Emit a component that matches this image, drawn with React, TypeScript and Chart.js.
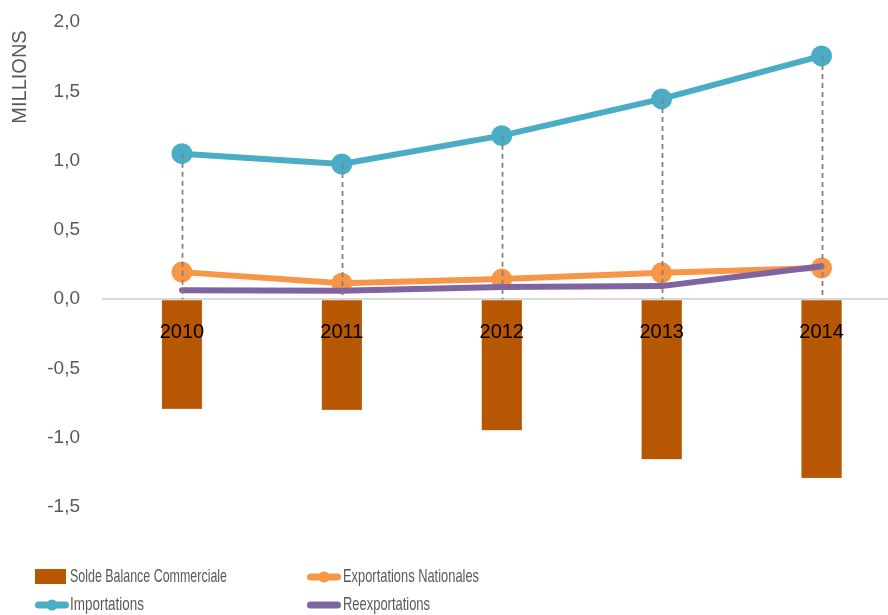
import { useEffect, useRef } from "react";
import { Chart, registerables } from "chart.js";
Chart.register(...registerables);

const years = ["2010", "2011", "2012", "2013", "2014"];
const solde = [-0.79, -0.8, -0.945, -1.155, -1.29];
const exportations = [0.195, 0.115, 0.145, 0.19, 0.225];
const importations = [1.05, 0.975, 1.18, 1.445, 1.755];
const reexportations = [0.065, 0.06, 0.087, 0.094, 0.238];
const yTicks = [-1.5, -1, -0.5, 0, 0.5, 1, 1.5, 2];
const yTitle = "MILLIONS";

const C_BAR = "#B75704";
const C_EXP = "#F79646";
const C_IMP = "#4BACC6";
const C_REX = "#8064A2";
const GREY = "#595959";
const SANS = "'Liberation Sans', sans-serif";

const dropLines = {
  id: "dropLines",
  afterDatasetsDraw(chart: any) {
    const { ctx, scales } = chart;
    const x = scales.x;
    const y = scales.y;
    ctx.save();
    ctx.strokeStyle = "#7F7F7F";
    ctx.lineWidth = 1.75;
    ctx.setLineDash([5, 4]);
    years.forEach((_, i) => {
      const hi = Math.max(importations[i], exportations[i], reexportations[i]);
      const px = Math.round(x.getPixelForValue(i)) + 0.5;
      ctx.beginPath();
      ctx.moveTo(px, y.getPixelForValue(hi));
      ctx.lineTo(px, y.getPixelForValue(0));
      ctx.stroke();
    });
    ctx.restore();
  },
};

const yTitlePlugin = {
  id: "yTitlePlugin",
  afterDraw(chart: any) {
    const { ctx } = chart;
    ctx.save();
    ctx.translate(20, 77);
    ctx.rotate(-Math.PI / 2);
    ctx.font = "20px " + SANS;
    ctx.fillStyle = GREY;
    ctx.textAlign = "center";
    ctx.textBaseline = "middle";
    ctx.fillText(yTitle, 0, 0);
    ctx.restore();
  },
};

const customLegend = {
  id: "customLegend",
  afterDraw(chart: any) {
    const { ctx } = chart;
    ctx.save();
    ctx.font = "19px " + SANS;
    ctx.fillStyle = GREY;
    ctx.textBaseline = "middle";
    const drawLine = (x0: number, x1: number, yy: number, color: string, marker: boolean) => {
      ctx.strokeStyle = color;
      ctx.lineWidth = 7;
      ctx.lineCap = "round";
      ctx.beginPath();
      ctx.moveTo(x0 + 3.5, yy);
      ctx.lineTo(x1 - 3.5, yy);
      ctx.stroke();
      if (marker) {
        ctx.fillStyle = color;
        ctx.beginPath();
        ctx.arc((x0 + x1) / 2, yy, 5.5, 0, Math.PI * 2);
        ctx.fill();
      }
    };
    ctx.fillStyle = C_BAR;
    ctx.fillRect(35, 569, 31, 15);
    ctx.fillStyle = GREY;
    ctx.fillText("Solde Balance Commerciale", 70, 577, 157);
    drawLine(307, 341, 577, C_EXP, true);
    ctx.fillStyle = GREY;
    ctx.fillText("Exportations Nationales", 343, 577, 136);
    drawLine(35, 69, 605, C_IMP, true);
    ctx.fillStyle = GREY;
    ctx.fillText("Importations", 70, 605, 74);
    drawLine(307, 341, 605, C_REX, false);
    ctx.fillStyle = GREY;
    ctx.fillText("Reexportations", 343, 605, 87);
    ctx.restore();
  },
};

export default function App() {
  const ref = useRef<HTMLCanvasElement | null>(null);
  useEffect(() => {
    if (!ref.current) return;
    const chart = new Chart(ref.current, {
      type: "bar",
      data: {
        labels: years,
        datasets: [
          {
            type: "line",
            label: "Reexportations",
            data: reexportations,
            borderColor: C_REX,
            backgroundColor: C_REX,
            borderWidth: 6,
            borderCapStyle: "round",
            borderJoinStyle: "round",
            pointRadius: 0,
            order: 0,
          },
          {
            type: "line",
            label: "Exportations Nationales",
            data: exportations,
            borderColor: C_EXP,
            backgroundColor: C_EXP,
            borderWidth: 6,
            pointRadius: 10.5,
            pointBorderWidth: 0,
            pointBackgroundColor: C_EXP,
            order: 1,
          },
          {
            type: "line",
            label: "Importations",
            data: importations,
            borderColor: C_IMP,
            backgroundColor: C_IMP,
            borderWidth: 6,
            pointRadius: 10.5,
            pointBorderWidth: 0,
            pointBackgroundColor: C_IMP,
            order: 2,
          },
          {
            type: "bar",
            label: "Solde Balance Commerciale",
            data: solde,
            backgroundColor: C_BAR,
            borderColor: "#C98A55",
            borderWidth: 0.5,
            barThickness: 40,
            order: 3,
          },
        ],
      },
      options: {
        responsive: false,
        animation: false,
        layout: { padding: { top: 22, bottom: 108, left: 0, right: 0 } },
        plugins: {
          legend: { display: false },
          tooltip: { enabled: false },
        },
        scales: {
          x: {
            position: { y: 0 },
            afterFit: (s: any) => {
              s.height = 0;
            },
            grid: { display: false, drawTicks: false },
            border: { display: false },
            ticks: {
              z: 1,
              color: "#000000",
              font: { family: SANS, size: 20 },
              padding: 21,
            },
          },
          y: {
            min: -1.5,
            max: 2,
            afterBuildTicks: (s: any) => {
              s.ticks = yTicks.map((v) => ({ value: v }));
            },
            afterFit: (s: any) => {
              s.width = 102;
              s.paddingTop = 0;
              s.paddingBottom = 0;
            },
            border: { display: false },
            grid: {
              drawTicks: false,
              color: (c: any) => (c.tick && c.tick.value === 0 ? "#D9D9D9" : "rgba(0,0,0,0)"),
              lineWidth: (c: any) => (c.tick && c.tick.value === 0 ? 2 : 0),
            },
            ticks: {
              color: GREY,
              font: { family: SANS, size: 19 },
              padding: 22,
              callback: (v: any) => Number(v).toFixed(1).replace(".", ","),
            },
          },
        },
      },
      plugins: [dropLines, yTitlePlugin, customLegend],
    } as any);
    return () => chart.destroy();
  }, []);
  return (
    <div style={{ position: "fixed", left: 0, top: 0, width: 888, height: 615, overflow: "hidden", background: "#fff" }}>
      <canvas ref={ref} width={912} height={615} style={{ display: "block" }} />
    </div>
  );
}
